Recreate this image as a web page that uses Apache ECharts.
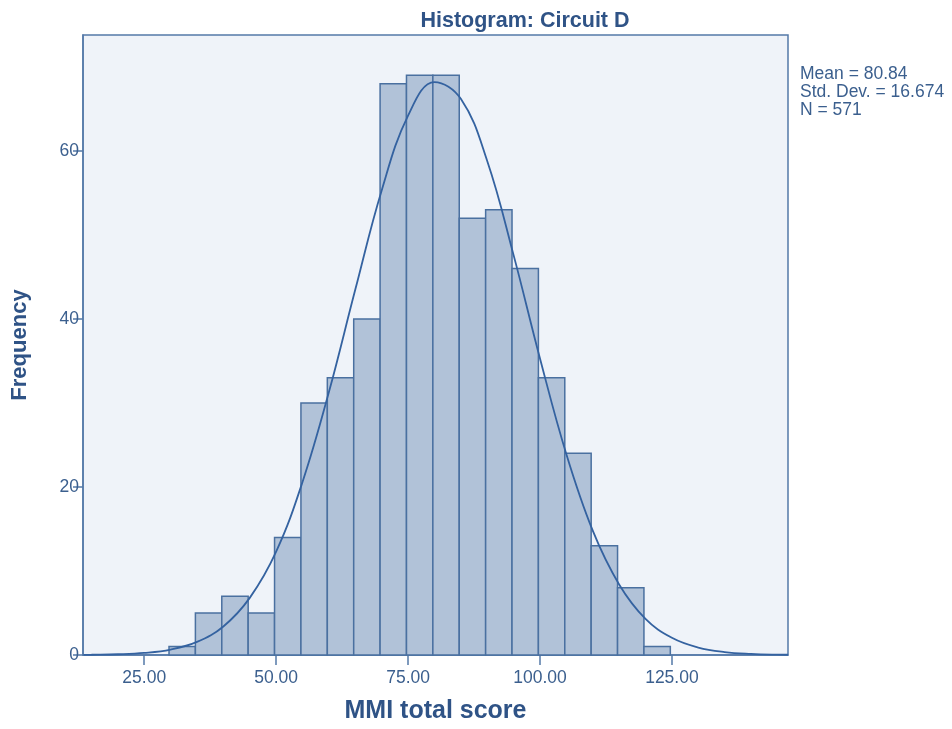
<!DOCTYPE html>
<html>
<head>
<meta charset="utf-8">
<script src="https://cdn.jsdelivr.net/npm/echarts@6/dist/echarts.min.js"></script>
<style>html,body{margin:0;padding:0;background:#fff}#c{width:952px;height:729px}</style>
</head>
<body>
<div id="c"></div>
<script>
// Histogram bins (lower edges) and counts
var binStarts = [29.7, 34.7, 39.7, 44.7, 49.7, 54.7, 59.7, 64.7, 69.7, 74.7, 79.7, 84.7, 89.7, 94.7, 99.7, 104.7, 109.7, 114.7, 119.7];
var binWidth = 5;
var counts = [1, 5, 7, 5, 14, 30, 33, 40, 68, 69, 69, 52, 53, 46, 33, 24, 13, 8, 1];
// Fitted normal curve
var curveX = [13.5, 15, 20, 25, 30, 35, 40, 45, 50, 55, 60, 65, 70, 75, 80, 85, 90, 95, 100, 105, 110, 115, 120, 125, 130, 135, 140, 145, 147];
var curveY = [0.02, 0.03, 0.09, 0.25, 0.65, 1.56, 3.4, 6.8, 12.3, 20.6, 31.3, 43.5, 55.3, 64.2, 68.2, 66.2, 58.8, 47.6, 35.3, 23.9, 14.8, 8.4, 4.3, 2.05, 0.89, 0.35, 0.13, 0.04, 0.03];
var xTicks = [25, 50, 75, 100, 125];
var yTicks = [0, 20, 40, 60];
var statsLines = ['Mean = 80.84', 'Std. Dev. = 16.674', 'N = 571'];

var chart = echarts.init(document.getElementById('c'));
var axisColor = '#5479a8';
var textColor = '#3b5f8e';
var font = 'Liberation Sans, Arial, sans-serif';

var barData = binStarts.map(function (s, i) { return [s, s + binWidth, counts[i]]; });
var lineData = curveX.map(function (x, i) { return [x, curveY[i]]; });

chart.setOption({
  backgroundColor: '#ffffff',
  animation: false,
  title: {
    text: 'Histogram: Circuit D',
    left: 520, top: 5, textAlign: 'center',
    textStyle: { fontFamily: font, fontWeight: 'bold', fontSize: 21.5, color: '#2f5386' }
  },
  graphic: [{
    type: 'text', left: 800, top: 65,
    style: { text: statsLines.join('\n'), fontFamily: font, fontSize: 17.5, lineHeight: 18, fill: textColor }
  }],
  grid: {
    left: 83, right: 164, top: 35, bottom: 67,
    show: true, backgroundColor: '#eff3f9', borderColor: axisColor, borderWidth: 1.5
  },
  xAxis: {
    type: 'value', min: 13.4, max: 147,
    name: 'MMI total score', nameLocation: 'middle', nameGap: 44,
    nameTextStyle: { fontFamily: font, fontWeight: 'bold', fontSize: 25, color: '#2f5386' },
    axisLine: { show: true, lineStyle: { color: axisColor, width: 1.5 } },
    axisTick: { show: true, length: 10, customValues: xTicks, lineStyle: { color: axisColor, width: 1.5 } },
    axisLabel: { customValues: xTicks, margin: 14, fontFamily: font, fontSize: 17.5, color: textColor, formatter: function (v) { return v.toFixed(2); } },
    splitLine: { show: false }
  },
  yAxis: {
    type: 'value', min: 0, max: 73.8,
    name: 'Frequency', nameLocation: 'middle', nameGap: 52, nameRotate: 90,
    nameTextStyle: { fontFamily: font, fontWeight: 'bold', fontSize: 22, color: '#2f5386' },
    axisLine: { show: true, lineStyle: { color: axisColor, width: 1.5 } },
    axisTick: { show: true, length: 10, customValues: yTicks, lineStyle: { color: axisColor, width: 1.5 } },
    axisLabel: { customValues: yTicks, margin: 4, fontFamily: font, fontSize: 17.5, color: textColor },
    splitLine: { show: false }
  },
  series: [{
    type: 'custom',
    data: barData,
    encode: { x: [0, 1], y: 2 },
    renderItem: function (params, api) {
      var p0 = api.coord([api.value(0), api.value(2)]);
      var p1 = api.coord([api.value(1), 0]);
      return {
        type: 'rect',
        shape: { x: p0[0], y: p0[1], width: p1[0] - p0[0], height: p1[1] - p0[1] },
        style: { fill: '#b1c2d8', stroke: '#4a70a0', lineWidth: 1.5 }
      };
    },
    z: 2
  }, {
    type: 'line',
    data: lineData,
    smooth: 0.4,
    showSymbol: false,
    lineStyle: { color: '#3462a0', width: 1.8 },
    z: 3
  }]
});
</script>
</body>
</html>
